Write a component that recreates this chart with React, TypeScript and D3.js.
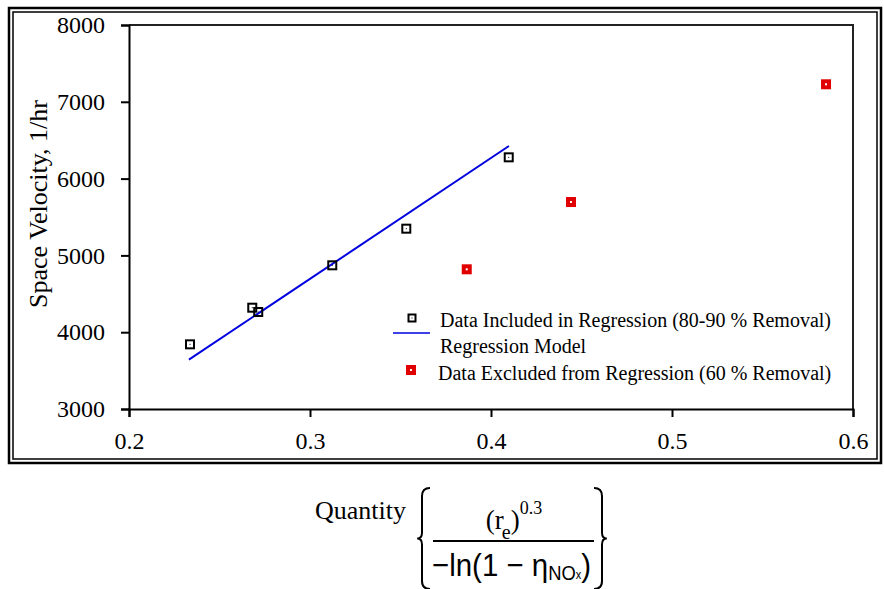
import React, { useEffect, useRef } from "react";
import * as d3 from "d3";

// included points (80-90 % removal)
const inclX = [0.2337, 0.2681, 0.2714, 0.3123, 0.3532, 0.4098];
const inclY = [3842, 4319, 4263, 4871, 5348, 6277];
// excluded points (60 % removal)
const exclX = [0.3866, 0.4442, 0.5851];
const exclY = [4819, 5695, 7228];
// regression line ends
const regX = [0.2331, 0.4099];
const regY = [3642, 6424];

const xMajor = [0.2, 0.3, 0.4, 0.5, 0.6];
const xMinor = [0.25, 0.35, 0.45, 0.55];
const yMajor = [3000, 4000, 5000, 6000, 7000, 8000];
const yMinor = [3500, 4500, 5500, 6500, 7500];

const legendLabels = [
  "Data Included in Regression (80-90 % Removal)",
  "Regression Model",
  "Data Excluded from Regression (60 % Removal)",
];

const serif = "'Liberation Serif', 'Times New Roman', serif";
const sans = "'Liberation Sans', Arial, sans-serif";

export default function App() {
  const ref = useRef<SVGSVGElement>(null);

  useEffect(() => {
    const svg = d3.select(ref.current);
    svg.selectAll("*").remove();

    const left = 129, right = 853, top = 25, bottom = 409;
    const x = d3.scaleLinear().domain([0.2, 0.6]).range([left, right]);
    const y = d3.scaleLinear().domain([3000, 8000]).range([bottom, top]);

    // double border
    svg.append("rect").attr("x", 9).attr("y", 8).attr("width", 872).attr("height", 455)
      .attr("fill", "none").attr("stroke", "#000").attr("stroke-width", 2.5);
    svg.append("rect").attr("x", 13).attr("y", 12).attr("width", 864).attr("height", 447)
      .attr("fill", "none").attr("stroke", "#000").attr("stroke-width", 1.5);

    // frame top / right
    svg.append("path")
      .attr("d", `M${left},${top}H${right}V${bottom}`)
      .attr("fill", "none").attr("stroke", "#222").attr("stroke-width", 2);

    // axes
    const gx = svg.append("g").attr("transform", `translate(0,${bottom})`);
    gx.call(d3.axisBottom(x).tickValues(xMinor).tickSize(4).tickFormat(() => ""));
    gx.call(d3.axisBottom(x).tickValues(xMajor).tickSize(8).tickPadding(15)
      .tickFormat(d3.format(".1f")));

    const gy = svg.append("g").attr("transform", `translate(${left},0)`);
    gy.call(d3.axisLeft(y).tickValues(yMinor).tickSize(4).tickFormat(() => ""));
    gy.call(d3.axisLeft(y).tickValues(yMajor).tickSize(8).tickPadding(16)
      .tickFormat(d3.format("d")));

    svg.selectAll(".domain").attr("stroke", "#000").attr("stroke-width", 2);
    svg.selectAll(".tick line").attr("stroke", "#000").attr("stroke-width", 2);
    svg.selectAll(".tick text").attr("font-family", serif).attr("font-size", 24).attr("fill", "#000");

    // y axis title
    svg.append("text")
      .attr("transform", "translate(47,204) rotate(-90)")
      .attr("text-anchor", "middle")
      .attr("font-family", serif).attr("font-size", 26)
      .text("Space Velocity, 1/hr");

    // regression line
    const line = d3.line<number>().x((d, i) => x(regX[i])).y((d) => y(d));
    svg.append("path").datum(regY).attr("d", line)
      .attr("fill", "none").attr("stroke", "#0000e0").attr("stroke-width", 2);

    // included points
    const inc = svg.append("g");
    inclX.forEach((v, i) => {
      inc.append("rect").attr("x", x(v) - 4).attr("y", y(inclY[i]) - 4)
        .attr("width", 8).attr("height", 8)
        .attr("fill", "none").attr("stroke", "#000").attr("stroke-width", 2);
      inc.append("rect").attr("x", x(v) - 0.5).attr("y", y(inclY[i]) - 0.5)
        .attr("width", 1).attr("height", 1).attr("fill", "#000");
    });

    // excluded points
    const exc = svg.append("g");
    exclX.forEach((v, i) => {
      exc.append("rect").attr("x", x(v) - 5).attr("y", y(exclY[i]) - 5)
        .attr("width", 10).attr("height", 10).attr("fill", "#e00000");
      exc.append("rect").attr("x", x(v) - 1).attr("y", y(exclY[i]) - 1)
        .attr("width", 2).attr("height", 2).attr("fill", "#fff");
    });

    // legend
    const lg = svg.append("g").attr("font-family", serif).attr("font-size", 20);
    lg.append("rect").attr("x", 408.5).attr("y", 314.5).attr("width", 7).attr("height", 7)
      .attr("fill", "none").attr("stroke", "#000").attr("stroke-width", 2);
    lg.append("rect").attr("x", 411.5).attr("y", 317.5).attr("width", 1).attr("height", 1)
      .attr("fill", "#000");
    lg.append("text").attr("x", 440).attr("y", 327).text(legendLabels[0]);
    lg.append("line").attr("x1", 393).attr("x2", 430).attr("y1", 333).attr("y2", 333)
      .attr("stroke", "#0000e0").attr("stroke-width", 1.5);
    lg.append("text").attr("x", 440).attr("y", 353).text(legendLabels[1]);
    lg.append("rect").attr("x", 406).attr("y", 365).attr("width", 10).attr("height", 10)
      .attr("fill", "#e00000");
    lg.append("rect").attr("x", 410).attr("y", 369).attr("width", 2).attr("height", 2)
      .attr("fill", "#fff");
    lg.append("text").attr("x", 438).attr("y", 380).text(legendLabels[2]);

    // x axis title: Quantity { (r_e)^0.3 / -ln(1 - eta_NOx) }
    const q = svg.append("g");
    q.append("text").attr("x", 315).attr("y", 519)
      .attr("font-family", serif).attr("font-size", 26).text("Quantity");

    const brace = (x0: number, dir: number) => {
      const t = 488, b = 589, m = (t + b) / 2, w = 8 * dir;
      return `M${x0 + w},${t} Q${x0},${t} ${x0},${t + 8} V${m - 6} Q${x0},${m} ${x0 - w * 0.6},${m}`
        + ` Q${x0},${m} ${x0},${m + 6} V${b - 8} Q${x0},${b} ${x0 + w},${b}`;
    };
    q.append("path").attr("d", brace(422, 1)).attr("fill", "none")
      .attr("stroke", "#000").attr("stroke-width", 2);
    q.append("path").attr("d", brace(602, -1)).attr("fill", "none")
      .attr("stroke", "#000").attr("stroke-width", 2);

    q.append("line").attr("x1", 433).attr("x2", 594).attr("y1", 541).attr("y2", 541)
      .attr("stroke", "#000").attr("stroke-width", 2);

    // numerator
    const num = q.append("text").attr("x", 514).attr("y", 529)
      .attr("text-anchor", "middle")
      .attr("font-family", serif).attr("font-size", 27);
    num.append("tspan").text("(r");
    num.append("tspan").attr("font-size", 20).attr("dx", -2).attr("dy", 10).text("e");
    num.append("tspan").attr("dx", 0).attr("dy", -10).text(")");
    num.append("tspan").attr("font-size", 18).attr("dy", -15).text("0.3");

    // denominator (condensed sans)
    const den = q.append("g").attr("transform", "translate(432,576) scale(0.92,1)");
    const dt = den.append("text").attr("x", 0).attr("y", 0)
      .attr("font-family", sans).attr("font-size", 32);
    dt.append("tspan").text("\u2212ln(1 \u2212 \u03b7");
    dt.append("tspan").attr("font-size", 20).attr("dy", 4).text("NO");
    dt.append("tspan").attr("font-size", 12).attr("dx", 0).attr("dy", -1).text("x");
    dt.append("tspan").attr("dy", -3).text(")");
  }, []);

  return (
    <svg ref={ref} width={884} height={589}
      style={{ position: "absolute", left: 0, top: 0, background: "#fff" }} />
  );
}
